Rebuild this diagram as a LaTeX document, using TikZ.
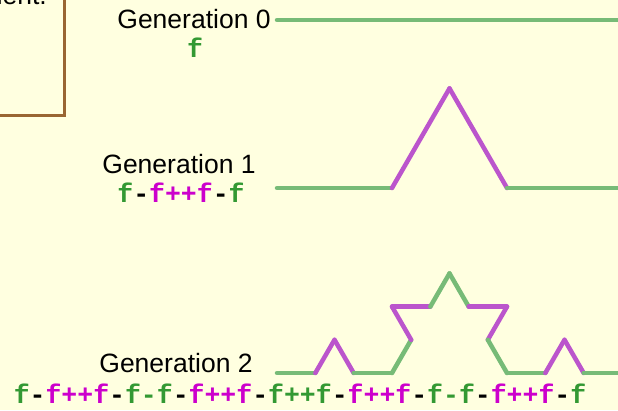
\documentclass[tikz,border=0pt]{standalone}
\usepackage{fontspec}
\setmainfont{Liberation Sans}
\setmonofont{Liberation Mono}
\definecolor{paperbg}{RGB}{255,255,224}
\definecolor{boxbrown}{RGB}{153,102,51}
\definecolor{segGreen}{RGB}{119,187,119}
\definecolor{segMagenta}{RGB}{187,85,204}
\definecolor{ruleGreen}{RGB}{51,153,51}
\definecolor{ruleMagenta}{RGB}{204,0,204}
\newcommand{\rgreen}[1]{\textcolor{ruleGreen}{#1}}
\newcommand{\rmag}[1]{\textcolor{ruleMagenta}{#1}}
\tikzset{
  genlabel/.style={font=\fontsize{26.5}{30}\selectfont, anchor=base, inner sep=0pt},
  rulelabel/.style={font=\fontsize{26.5}{30}\selectfont\ttfamily\bfseries, anchor=base, inner sep=0pt},
  greenseg/.style={line width=4.5pt, line cap=round, segGreen},
  magseg/.style={line width=4.5pt, line cap=round, segMagenta},
  notebox/.style={line width=3pt, boxbrown},
}

\begin{document}
\begin{tikzpicture}[x=1pt, y=1pt]

  % ── Canvas ──
  \fill[paperbg] (0,0) rectangle (618,-410);
  \useasboundingbox (0,0) rectangle (618,-410);

  % ── Note box (cut off) ──
  \draw[notebox] (-20,30) rectangle (64,-115);
  \node[genlabel, anchor=base east] (note) at (47,-4) {nent.};

  % ── Labels ──
  \node[genlabel] (gen0) at (194,-28)  {Generation 0};
  \node[rulelabel] (rule0) at (195,-57) {\rgreen{f}};
  \node[genlabel] (gen1) at (179,-173) {Generation 1};
  \node[rulelabel] (rule1) at (181,-202) {\rgreen{f}-\rmag{f++f}-\rgreen{f}};
  \node[genlabel] (gen2) at (176,-372) {Generation 2};
  \node[rulelabel] (rule2) at (300,-403)
    {\rgreen{f}-\rmag{f++f}-\rgreen{f-f}-\rmag{f++f}-\rgreen{f++f}-\rmag{f++f}-\rgreen{f-f}-\rmag{f++f}-\rgreen{f}};

  % ── Generation 0 ──
  \coordinate (g0a) at (277,-20);
  \coordinate (g0b) at (622,-20);
  \draw[greenseg] (g0a) -- (g0b);

  % ── Generation 1 ──
  \coordinate (g1p0) at (277,-188);
  \foreach \ang/\sty [count=\i, remember=\i as \j (initially 0)] in
    {0/greenseg, 60/magseg, -60/magseg, 0/greenseg}
    \draw[\sty] (g1p\j) -- ++(\ang:115pt) coordinate (g1p\i);

  % ── Generation 2 ──
  \coordinate (g2p0) at (277,-373);
  \foreach \ang/\sty [count=\i, remember=\i as \j (initially 0)] in
    {0/greenseg, 60/magseg, -60/magseg, 0/greenseg,
     60/greenseg, 120/magseg, 0/magseg, 60/greenseg,
     -60/greenseg, 0/magseg, -120/magseg, -60/greenseg,
     0/greenseg, 60/magseg, -60/magseg, 0/greenseg}
    \draw[\sty] (g2p\j) -- ++(\ang:38.333pt) coordinate (g2p\i);

\end{tikzpicture}
\end{document}
